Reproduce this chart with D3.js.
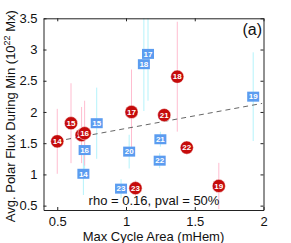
<!DOCTYPE html>
<html><head><meta charset="utf-8">
<script src="https://cdn.jsdelivr.net/npm/d3@7"></script>
<style>body{margin:0;background:#fff}svg{display:block}</style>
</head><body>
<svg id="chart" width="291" height="243"></svg>
<script>
// ---- data ----
const redCycles = ["14","15","20","16","17","18","21","22","19","23"];
const redX      = [0.50, 0.60, 0.677, 0.699, 1.04, 1.373, 1.278, 1.442, 1.675, 1.069];
const redY      = [1.53, 1.82, 1.63, 1.66, 2.00, 2.565, 1.95, 1.43, 0.815, 0.78];
const redErr    = [0.52, 0.64, 0.45, 0.52, 0.68, 0.88, 0.08, 0.08, 0.37, 0.12];

const blueCycles = ["14","15","16","17","18","19","20","21","22","23"];
const blueX      = [0.69, 0.787, 0.699, 1.16, 1.13, 1.925, 1.023, 1.25, 1.245, 0.964];
const blueY      = [1.01, 1.82, 1.39, 2.93, 2.765, 2.245, 1.365, 1.563, 1.22, 0.772];
const blueErr    = [0.34, 0.57, 0.30, 0.75, 0.75, 0.71, 0.27, 0.12, 0.12, 0.15];

const fitSlope = 0.405, fitIntercept = 1.331, fitRange = [0.5, 1.99];

const xTicks = [0.5, 1, 1.5, 2];
const yTicks = [0.5, 1, 1.5, 2, 2.5, 3, 3.5];
const xDomain = [0.4, 2];
const yDomain = [0.43, 3.5];
const statText = "rho = 0.16, pval = 50%";
const panelLabel = "(a)";

// ---- layout ----
const L = 43.5, R = 263.5, T = 18.3, B = 210;
const font = "'Liberation Sans', Arial, Helvetica, sans-serif";
const svg = d3.select("#chart");
const x = d3.scaleLinear().domain(xDomain).range([L, R]);
const y = d3.scaleLinear().domain(yDomain).range([B, T]);

svg.append("defs").append("clipPath").attr("id","clip")
  .append("rect").attr("x",L).attr("y",T).attr("width",R-L).attr("height",B-T);

const red = redCycles.map((c,i)=>({c, x:redX[i], y:redY[i], e:redErr[i]}));
const blue = blueCycles.map((c,i)=>({c, x:blueX[i], y:blueY[i], e:blueErr[i]}));

const plot = svg.append("g").attr("clip-path","url(#clip)");
// error bars
plot.selectAll("line.eb").data(blue).join("line")
  .attr("x1",d=>x(d.x)).attr("x2",d=>x(d.x))
  .attr("y1",d=>y(d.y+d.e)).attr("y2",d=>y(d.y-d.e))
  .attr("stroke","#b4f3fb").attr("stroke-width",1);
plot.selectAll("line.er").data(red).join("line")
  .attr("x1",d=>x(d.x)).attr("x2",d=>x(d.x))
  .attr("y1",d=>y(d.y+d.e)).attr("y2",d=>y(d.y-d.e))
  .attr("stroke","#ffbdd0").attr("stroke-width",1);

// fit line
plot.append("line")
  .attr("x1",x(fitRange[0])).attr("y1",y(fitIntercept+fitSlope*fitRange[0]))
  .attr("x2",x(fitRange[1])).attr("y2",y(fitIntercept+fitSlope*fitRange[1]))
  .attr("stroke","#555").attr("stroke-width",0.9).attr("stroke-dasharray","5,4");

// blue squares
const bg = plot.selectAll("g.b").data(blue).join("g")
  .attr("transform",d=>`translate(${x(d.x)},${y(d.y)})`);
bg.append("rect").attr("x",-6).attr("y",-5).attr("width",12).attr("height",10).attr("fill","#5b9cf0");
bg.append("text").text(d=>d.c).attr("text-anchor","middle").attr("dy","0.35em")
  .attr("fill","#fff").attr("font-family",font).attr("font-size",8).attr("font-weight","bold");

// red circles
const rg = plot.selectAll("g.r").data(red).join("g")
  .attr("transform",d=>`translate(${x(d.x)},${y(d.y)})`);
rg.append("circle").attr("r",6.6).attr("fill","#c50b0b").attr("stroke","#fff").attr("stroke-width",0.5);
rg.append("text").text(d=>d.c).attr("text-anchor","middle").attr("dy","0.35em")
  .attr("fill","#fff").attr("font-family",font).attr("font-size",8).attr("font-weight","bold");

// axes
const fmt = d3.format("");
const ax = svg.append("g").attr("font-family",font);
ax.append("g").attr("transform",`translate(0,${B})`)
  .call(d3.axisBottom(x).tickValues(xTicks).tickSize(-3).tickSizeOuter(0).tickPadding(6.5).tickFormat(fmt));
ax.append("g").attr("transform",`translate(0,${T})`)
  .call(d3.axisTop(x).tickValues(xTicks).tickSize(-3).tickSizeOuter(0).tickFormat(""));
ax.append("g").attr("transform",`translate(${L},0)`)
  .call(d3.axisLeft(y).tickValues(yTicks).tickSize(-3).tickSizeOuter(0).tickPadding(6).tickFormat(fmt));
ax.append("g").attr("transform",`translate(${R},0)`)
  .call(d3.axisRight(y).tickValues(yTicks).tickSize(-3).tickSizeOuter(0).tickFormat(""));
ax.selectAll("text").attr("font-size",13).attr("fill","#111");
ax.selectAll("path.domain").attr("stroke","#222");
ax.selectAll(".tick line").attr("stroke","#222");

// labels
svg.append("text").attr("x",(L+R)/2).attr("y",240.5).attr("text-anchor","middle")
  .attr("font-family",font).attr("font-size",13).attr("fill","#111").text("Max Cycle Area (mHem)");
const yl = svg.append("text").attr("transform",`translate(15,${(T+B)/2+2}) rotate(-90)`)
  .attr("text-anchor","middle").attr("font-family",font).attr("font-size",13).attr("fill","#111");
yl.append("tspan").text("Avg. Polar Flux During Min (10");
yl.append("tspan").attr("dy",-5).attr("font-size",9).text("22");
yl.append("tspan").attr("dy",5).text(" Mx)");

svg.append("text").attr("x",154).attr("y",205).attr("text-anchor","middle")
  .attr("font-family",font).attr("font-size",13).attr("fill","#111").text(statText);
svg.append("text").attr("x",262).attr("y",34.5).attr("text-anchor","end")
  .attr("font-family",font).attr("font-size",16).attr("fill","#111").text(panelLabel);
</script>
</body></html>
